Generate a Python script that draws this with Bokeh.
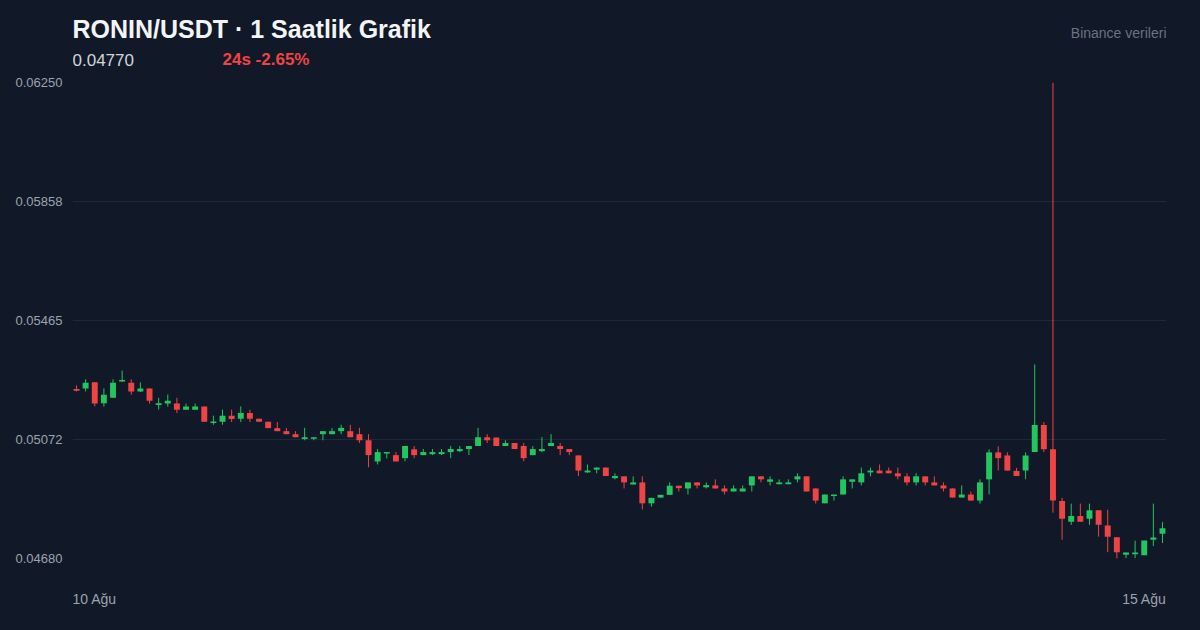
from bokeh.plotting import figure
from bokeh.models import ColumnDataSource, Range1d, FixedTicker, Label
from bokeh.layouts import column
from bokeh.embed import file_html
from bokeh.resources import INLINE

# ---- data (1h candles, RONIN/USDT) ----
opens = [0.05239, 0.05241, 0.05261, 0.05192, 0.05210, 0.05264, 0.05260, 0.05231, 0.05241, 0.05186,
         0.05191, 0.05191, 0.05171, 0.05171, 0.05181, 0.05127, 0.05131, 0.05151, 0.05141, 0.05160,
         0.05141, 0.05131, 0.05110, 0.05100, 0.05090, 0.05074, 0.05075, 0.05090, 0.05090, 0.05100,
         0.05100, 0.05090, 0.05070, 0.05000, 0.05026, 0.05021, 0.05011, 0.05040, 0.05021, 0.05024,
         0.05024, 0.05031, 0.05034, 0.05041, 0.05051, 0.05080, 0.05079, 0.05051, 0.05061, 0.05051,
         0.05021, 0.05034, 0.05051, 0.05051, 0.05041, 0.05020, 0.04964, 0.04973, 0.04980, 0.04945,
         0.04951, 0.04924, 0.04931, 0.04862, 0.04881, 0.04890, 0.04920, 0.04911, 0.04931, 0.04915,
         0.04921, 0.04911, 0.04901, 0.04901, 0.04921, 0.04951, 0.04933, 0.04925, 0.04925, 0.04941,
         0.04951, 0.04911, 0.04862, 0.04886, 0.04891, 0.04933, 0.04931, 0.04964, 0.04970, 0.04970,
         0.04961, 0.04951, 0.04931, 0.04951, 0.04931, 0.04921, 0.04911, 0.04881, 0.04891, 0.04871,
         0.04941, 0.05030, 0.05020, 0.04969, 0.04970, 0.05031, 0.05120, 0.05040, 0.04870, 0.04801,
         0.04820, 0.04811, 0.04839, 0.04789, 0.04750, 0.04692, 0.04694, 0.04691, 0.04742, 0.04762]

highs = [0.05251, 0.05271, 0.05261, 0.05241, 0.05271, 0.05300, 0.05271, 0.05261, 0.05241, 0.05210,
         0.05221, 0.05210, 0.05191, 0.05191, 0.05181, 0.05151, 0.05171, 0.05171, 0.05182, 0.05171,
         0.05141, 0.05131, 0.05130, 0.05110, 0.05100, 0.05111, 0.05080, 0.05100, 0.05110, 0.05121,
         0.05121, 0.05111, 0.05090, 0.05041, 0.05031, 0.05031, 0.05051, 0.05051, 0.05041, 0.05041,
         0.05041, 0.05051, 0.05051, 0.05051, 0.05111, 0.05090, 0.05079, 0.05070, 0.05061, 0.05061,
         0.05051, 0.05080, 0.05090, 0.05061, 0.05041, 0.05020, 0.04990, 0.04980, 0.04980, 0.04961,
         0.04951, 0.04951, 0.04951, 0.04880, 0.04890, 0.04931, 0.04920, 0.04931, 0.04931, 0.04931,
         0.04941, 0.04921, 0.04921, 0.04921, 0.04951, 0.04951, 0.04951, 0.04941, 0.04941, 0.04961,
         0.04951, 0.04911, 0.04891, 0.04891, 0.04951, 0.04941, 0.04980, 0.04980, 0.04990, 0.04980,
         0.04980, 0.04961, 0.04961, 0.04951, 0.04951, 0.04931, 0.04911, 0.04921, 0.04901, 0.04941,
         0.05040, 0.05050, 0.05030, 0.04979, 0.05030, 0.05320, 0.05130, 0.06250, 0.04880, 0.04861,
         0.04861, 0.04861, 0.04839, 0.04841, 0.04750, 0.04700, 0.04739, 0.04739, 0.04861, 0.04800]

lows = [0.05231, 0.05231, 0.05182, 0.05181, 0.05210, 0.05262, 0.05220, 0.05229, 0.05191, 0.05171,
        0.05181, 0.05160, 0.05171, 0.05171, 0.05131, 0.05121, 0.05121, 0.05130, 0.05130, 0.05130,
        0.05131, 0.05110, 0.05100, 0.05090, 0.05080, 0.05070, 0.05070, 0.05070, 0.05090, 0.05090,
        0.05080, 0.05061, 0.04981, 0.04990, 0.05010, 0.05000, 0.05001, 0.05011, 0.05021, 0.05021,
        0.05021, 0.05011, 0.05031, 0.05021, 0.05051, 0.05061, 0.05051, 0.05051, 0.05041, 0.05001,
        0.05021, 0.05031, 0.05051, 0.05021, 0.05021, 0.04952, 0.04962, 0.04961, 0.04952, 0.04941,
        0.04911, 0.04924, 0.04842, 0.04851, 0.04881, 0.04890, 0.04901, 0.04891, 0.04911, 0.04911,
        0.04911, 0.04891, 0.04901, 0.04901, 0.04901, 0.04931, 0.04921, 0.04925, 0.04925, 0.04931,
        0.04901, 0.04861, 0.04862, 0.04871, 0.04891, 0.04911, 0.04921, 0.04951, 0.04961, 0.04961,
        0.04941, 0.04921, 0.04921, 0.04921, 0.04921, 0.04901, 0.04881, 0.04881, 0.04871, 0.04861,
        0.04891, 0.04970, 0.04970, 0.04952, 0.04941, 0.05031, 0.05031, 0.04831, 0.04742, 0.04791,
        0.04801, 0.04791, 0.04752, 0.04701, 0.04680, 0.04681, 0.04681, 0.04691, 0.04721, 0.04731]

closes = [0.05233, 0.05260, 0.05191, 0.05220, 0.05260, 0.05269, 0.05231, 0.05241, 0.05200, 0.05192,
          0.05200, 0.05171, 0.05181, 0.05181, 0.05131, 0.05132, 0.05151, 0.05140, 0.05160, 0.05141,
          0.05131, 0.05110, 0.05100, 0.05090, 0.05080, 0.05080, 0.05080, 0.05100, 0.05100, 0.05111,
          0.05080, 0.05070, 0.05021, 0.05031, 0.05031, 0.05000, 0.05051, 0.05021, 0.05031, 0.05031,
          0.05031, 0.05041, 0.05041, 0.05051, 0.05080, 0.05070, 0.05051, 0.05061, 0.05041, 0.05011,
          0.05041, 0.05041, 0.05061, 0.05041, 0.05031, 0.04970, 0.04970, 0.04980, 0.04952, 0.04952,
          0.04931, 0.04931, 0.04862, 0.04880, 0.04890, 0.04920, 0.04912, 0.04931, 0.04921, 0.04922,
          0.04911, 0.04901, 0.04911, 0.04911, 0.04951, 0.04941, 0.04941, 0.04931, 0.04931, 0.04951,
          0.04901, 0.04871, 0.04891, 0.04891, 0.04941, 0.04941, 0.04961, 0.04970, 0.04961, 0.04961,
          0.04951, 0.04931, 0.04951, 0.04931, 0.04921, 0.04911, 0.04881, 0.04891, 0.04871, 0.04931,
          0.05030, 0.05011, 0.04970, 0.04952, 0.05020, 0.05120, 0.05040, 0.04871, 0.04811, 0.04820,
          0.04801, 0.04839, 0.04791, 0.04752, 0.04701, 0.04700, 0.04700, 0.04739, 0.04749, 0.04780]

y_tick_labels = ["0.04680", "0.05072", "0.05465", "0.05858", "0.06250"]
date_labels = ["10 Ağu", "15 Ağu"]
title_text = "RONIN/USDT · 1 Saatlik Grafik"
price_text = "0.04770"
change_text = "24s -2.65%"
source_text = "Binance verileri"

# ---- style ----
BG = "#111827"
GRID = "#1f2937"
GREEN = "#22c55e"
RED = "#ef4444"
MUTED = "#9ca3af"
FONT = "Liberation Sans"

W = 1200
HEAD_H, MAIN_H, FOOT_H = 72, 494, 64
FL, FR, FT, FB = 72, 34, 10, 8   # borders of the main chart frame


def blank(height):
    f = figure(width=W, height=height, output_backend="svg", toolbar_location=None,
               x_range=Range1d(0, 1), y_range=Range1d(0, 1),
               x_axis_location=None, y_axis_location=None,
               min_border=0, background_fill_color=BG, border_fill_color=BG,
               outline_line_color=None)
    f.grid.visible = False
    return f


def lab(f, x, baseline, text, size, color, bold=False, align="left"):
    # baseline: wanted text baseline (px from the top of this canvas)
    f.add_layout(Label(x=x, y=baseline - 0.4 * size, x_units="canvas", y_units="canvas", text=text,
                       text_font=FONT, text_font_size=f"{size}px", text_color=color,
                       text_font_style="bold" if bold else "normal",
                       text_align=align, text_baseline="alphabetic"))


# ---- header ----
head = blank(HEAD_H)
lab(head, 72, 38, title_text, 25, "#f3f4f6", bold=True)
lab(head, 72, 66, price_text, 17, "#d1d5db")
lab(head, 222, 66, change_text, 17, RED, bold=True)
lab(head, 1166, 38, source_text, 14, "#6b7280", align="right")

# ---- main candlestick chart ----
n = len(opens)
xs = list(range(n))
colors = [GREEN if c >= o else RED for o, c in zip(opens, closes)]
tops = [max(o, c) for o, c in zip(opens, closes)]
bottoms = [min(o, c) for o, c in zip(opens, closes)]

src = ColumnDataSource(dict(x=xs, open=opens, high=highs, low=lows, close=closes,
                            top=tops, bottom=bottoms, color=colors))

lo, hi = min(lows), max(highs)
pad = 0.44

p = figure(width=W, height=MAIN_H, output_backend="svg", toolbar_location=None,
           x_range=Range1d(-pad, n - 1 + pad), y_range=Range1d(lo, hi),
           min_border_left=FL, min_border_right=FR, min_border_top=FT, min_border_bottom=FB,
           background_fill_color=BG, border_fill_color=BG, outline_line_color=None)

p.xaxis.visible = False
p.xgrid.visible = False

step = (hi - lo) / 4
ticks = [lo + step * k for k in range(5)]
p.yaxis.ticker = FixedTicker(ticks=ticks)
p.yaxis.major_label_overrides = {t: s for t, s in zip(ticks, y_tick_labels)}
p.yaxis.axis_line_color = None
p.yaxis.major_tick_line_color = None
p.yaxis.minor_tick_line_color = None
p.yaxis.major_tick_out = 0
p.yaxis.major_tick_in = 0
p.yaxis.major_label_standoff = 10
p.yaxis.major_label_text_color = MUTED
p.yaxis.major_label_text_font = FONT
p.yaxis.major_label_text_font_size = "13px"
p.ygrid.grid_line_color = GRID
p.ygrid.grid_line_width = 1

p.segment(x0="x", y0="high", x1="x", y1="low", line_color="color", line_width=1, source=src)
p.vbar(x="x", width=0.65, top="top", bottom="bottom", fill_color="color", line_color=None, source=src)

# ---- footer with the date labels ----
foot = blank(FOOT_H)
lab(foot, 72, 604 - (HEAD_H + MAIN_H), date_labels[0], 14, MUTED)
lab(foot, 1166, 604 - (HEAD_H + MAIN_H), date_labels[1], 14, MUTED, align="right")

layout = column(head, p, foot, spacing=0)

html = file_html(layout, INLINE)
html = html.replace("</head>", "<style>html,body{background:#111827;}</style></head>", 1)
open("out.html", "w").write(html)
